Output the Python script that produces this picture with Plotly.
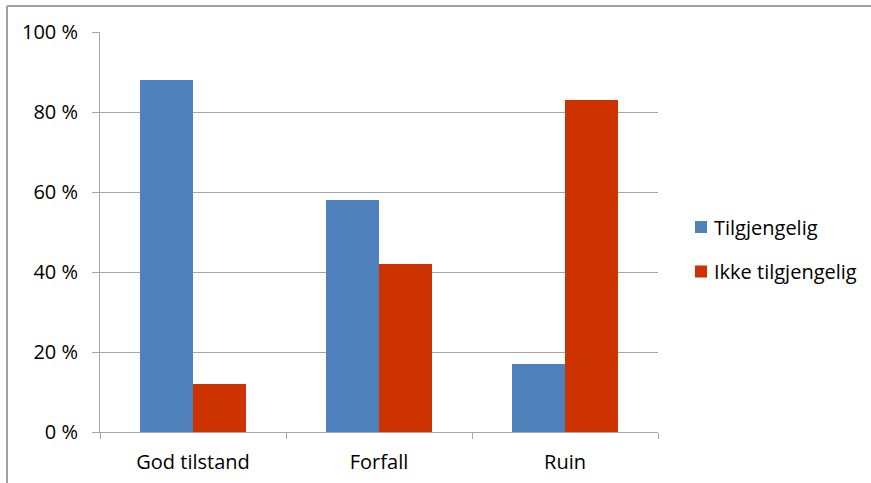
import plotly.graph_objects as go

categories = ["God tilstand", "Forfall", "Ruin"]
tilgjengelig = [88, 58, 17]
ikke_tilgjengelig = [12, 42, 83]
series_names = ["Tilgjengelig", "Ikke tilgjengelig"]
series_colors = ["#4F81BD", "#CC3300"]
y_ticks = [0, 20, 40, 60, 80, 100]
y_tick_labels = ["0 %", "20 %", "40 %", "60 %", "80 %", "100 %"]

FONT = "Open Sans, Lato, sans-serif"
FS = 20
GRID = "#A6A6A6"
PW, PH = 558, 400  # plot area size in px

fig = go.Figure()
for vals, name, col in zip([tilgjengelig, ikke_tilgjengelig], series_names, series_colors):
    fig.add_trace(go.Bar(x=categories, y=vals, name=name,
                         marker=dict(color=col, line=dict(width=0)),
                         showlegend=False))

# manual legend (squares + text) placed to the right of the plot
shapes = [
    dict(type="line", xref="paper", yref="paper", x0=-93/PW, x1=771/PW,
         y0=(PH+26)/PH, y1=(PH+26)/PH, line=dict(color="#A0A0A0", width=2)),
    dict(type="line", xref="paper", yref="paper", x0=-93/PW, x1=-93/PW,
         y0=-51/PH, y1=(PH+26)/PH, line=dict(color="#A0A0A0", width=2)),
]
annotations = []
legend_centers = [227 - 32, 271.5 - 32]  # px from top of plot area
for name, col, cy in zip(series_names, series_colors, legend_centers):
    yc = (PH - cy) / PH
    shapes.append(dict(type="rect", xref="paper", yref="paper",
                       x0=(695-100)/PW, x1=(707-100)/PW,
                       y0=yc - 6/PH, y1=yc + 6/PH,
                       fillcolor=col, line=dict(width=0)))
    annotations.append(dict(text=name, xref="paper", yref="paper",
                            x=(712-100)/PW, y=yc, xanchor="left", yanchor="middle",
                            showarrow=False, font=dict(size=FS, family=FONT, color="#000")))

fig.update_layout(
    width=871, height=483,
    margin=dict(l=100, r=213, t=32, b=51, autoexpand=False),
    paper_bgcolor="white", plot_bgcolor="white",
    barmode="group", bargap=0.43, bargroupgap=0,
    font=dict(family=FONT, size=FS, color="#000000"),
    showlegend=False,
    xaxis=dict(type="category", showgrid=False, showline=True, linecolor=GRID,
               linewidth=1, ticks="outside", tickson="boundaries", ticklen=6,
               tickcolor=GRID, tickfont=dict(size=FS, family=FONT),
               ticklabelstandoff=12, automargin=False),
    yaxis=dict(range=[0, 100], tickvals=y_ticks, ticktext=y_tick_labels,
               showgrid=True, gridcolor=GRID, gridwidth=1,
               showline=True, linecolor=GRID, linewidth=1,
               ticks="outside", ticklen=7, tickcolor=GRID,
               tickfont=dict(size=FS, family=FONT), zeroline=False,
               ticklabelstandoff=10, automargin=False),
    shapes=shapes,
    annotations=annotations,
)

fig.write_html("out.html", config={"displayModeBar": False},
               post_script="document.body.style.margin='0';")
